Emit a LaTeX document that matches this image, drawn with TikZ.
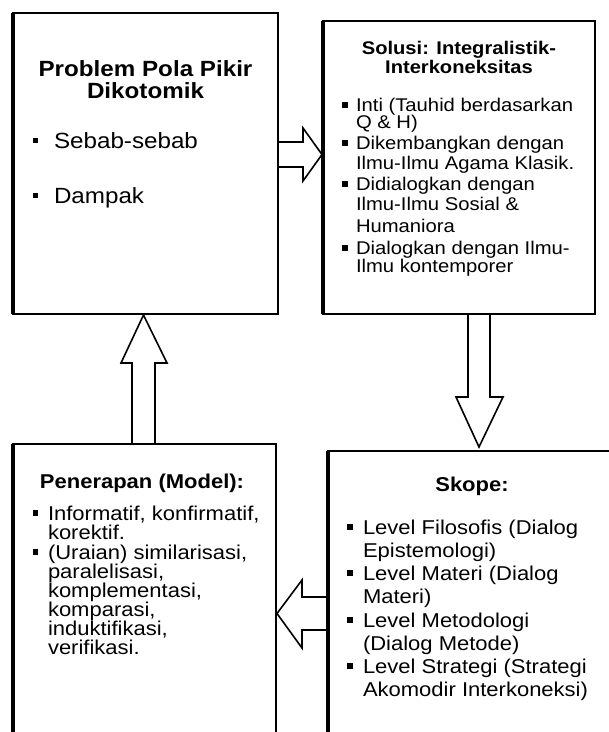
\documentclass[tikz,border=0pt]{standalone}
\usepackage{fontspec}
\setmainfont{Liberation Sans}[FakeStretch=1.1]
\usetikzlibrary{calc}
\newcommand\fsTa{\bfseries\fontsize{22}{22}\selectfont}
\newcommand\fsBa{\fontsize{22}{22}\selectfont}
\newcommand\fsTb{\bfseries\fontsize{18.3}{18}\selectfont}
\newcommand\fsBb{\fontsize{18.4}{18}\selectfont}
\newcommand\fsTc{\bfseries\fontsize{20}{20}\selectfont}
\newcommand\fsBc{\fontsize{20}{20}\selectfont}
\tikzset{
  box/.style={draw, line width=2pt, outer sep=0pt, inner sep=0pt, anchor=north west},
  leftedge/.style={line width=3.4pt},
  blk/.style={draw, line width=1.6pt, line join=miter},
  ln/.style={inner sep=0pt, outer sep=0pt, anchor=base west},
  ttl/.style={inner sep=0pt, outer sep=0pt, anchor=base},
  bul/.style={fill=black, minimum size=5.5pt, inner sep=0pt, outer sep=0pt},
}
\begin{document}
\begin{tikzpicture}[x=1pt, y=-1pt]
\useasboundingbox (0,0) rectangle (609,732);
\fill[white] (0,0) rectangle (609,732);
\begin{scope}
\clip (0,0) rectangle (609,732);
% boxes
\node[box, minimum width=265pt, minimum height=301pt] (prob) at (13,13) {};
\node[box, minimum width=272pt, minimum height=293pt] (sol) at (323,21) {};
\node[box, minimum width=288pt, minimum height=330pt] (skope) at (328,451) {};
\node[box, minimum width=263pt, minimum height=330pt] (pen) at (13,444) {};
\draw[leftedge] (prob.north west) -- (prob.south west);
\draw[leftedge] (sol.north west) -- (sol.south west);
\draw[leftedge] (skope.north west) -- (skope.south west);
\draw[leftedge] (pen.north west) -- (pen.south west);

% block arrows
\draw[blk] ($(prob.north east)+(0,129)$) -- (303,142) -- (303,128)
  -- ($(sol.north west)+(-1,133.5)$) -- (303,181) -- (303,167)
  -- ($(prob.north east)+(0,154)$);
\draw[blk] ($(sol.south west)+(145,0)$) -- (468,397) -- (456,397)
  -- ($(skope.north west)+(151,-4)$) -- (503,397) -- (490,397)
  -- ($(sol.south west)+(167,0)$);
\draw[blk] ($(skope.north west)+(0,146)$) -- (302,597) -- (302,580)
  -- ($(pen.north east)+(1,169.5)$) -- (302,648) -- (302,630)
  -- ($(skope.north west)+(0,179)$);
\draw[blk] ($(pen.north west)+(119,0)$) -- (132,363) -- (121,363)
  -- ($(prob.south west)+(130.5,1)$) -- (167,363) -- (155,363)
  -- ($(pen.north west)+(142,0)$);

% box 1 text
\node[ttl, font=\fsTa] (pt1) at (145.5,76) {Problem Pola Pikir};
\node[ttl, font=\fsTa] (pt2) at (145.5,98) {Dikotomik};
\node[bul] (pb1) at (35.5,140.5) {};
\node[ln, font=\fsBa] (pl1) at (54,148) {Sebab-sebab};
\node[bul] (pb2) at (35.5,195.5) {};
\node[ln, font=\fsBa] (pl2) at (54,203) {Dampak};

% box 2 text
\node[ttl, font=\fsTb] (st1) at (459,54) {Solusi: Integralistik-};
\node[ttl, font=\fsTb] (st2) at (459,73) {Interkoneksitas};
\node[bul] (sb1) at (345,105) {};
\node[ln, font=\fsBb] (sl1) at (356,111) {Inti (Tauhid berdasarkan};
\node[ln, font=\fsBb] (sl2) at (356,128) {Q \& H)};
\node[bul] (sb2) at (345,143) {};
\node[ln, font=\fsBb] (sl3) at (356,149) {Dikembangkan dengan};
\node[ln, font=\fsBb] (sl4) at (356,169) {Ilmu-Ilmu Agama Klasik.};
\node[bul] (sb3) at (345,184) {};
\node[ln, font=\fsBb] (sl5) at (356,190) {Didialogkan dengan};
\node[ln, font=\fsBb] (sl6) at (356,210) {Ilmu-Ilmu Sosial \&};
\node[ln, font=\fsBb] (sl7) at (356,232) {Humaniora};
\node[bul] (sb4) at (345,248) {};
\node[ln, font=\fsBb] (sl8) at (356,254) {Dialogkan dengan Ilmu-};
\node[ln, font=\fsBb] (sl9) at (356,272) {Ilmu kontemporer};

% skope text
\node[ttl, font=\fsTc] (kt1) at (472,491) {Skope:};
\node[bul] (kb1) at (350,527) {};
\node[ln, font=\fsBc] (kl1) at (363,534) {Level Filosofis (Dialog};
\node[ln, font=\fsBc] (kl2) at (363,557) {Epistemologi)};
\node[bul] (kb2) at (350,573) {};
\node[ln, font=\fsBc] (kl3) at (363,580) {Level Materi (Dialog};
\node[ln, font=\fsBc] (kl4) at (363,603) {Materi)};
\node[bul] (kb3) at (350,620) {};
\node[ln, font=\fsBc] (kl5) at (363,627) {Level Metodologi};
\node[ln, font=\fsBc] (kl6) at (363,650) {(Dialog Metode)};
\node[bul] (kb4) at (350,666) {};
\node[ln, font=\fsBc] (kl7) at (363,673) {Level Strategi (Strategi};
\node[ln, font=\fsBc] (kl8) at (363,696) {Akomodir Interkoneksi)};

% penerapan text
\node[ttl, font=\fsTc] (nt1) at (142,488) {Penerapan (Model):};
\node[bul] (nb1) at (35.5,513) {};
\node[ln, font=\fsBc] (nl1) at (48,520) {Informatif, konfirmatif,};
\node[ln, font=\fsBc] (nl2) at (48,539) {korektif.};
\node[bul] (nb2) at (35.5,552) {};
\node[ln, font=\fsBc] (nl3) at (48,559) {(Uraian) similarisasi,};
\node[ln, font=\fsBc] (nl4) at (48,578) {paralelisasi,};
\node[ln, font=\fsBc] (nl5) at (48,597) {komplementasi,};
\node[ln, font=\fsBc] (nl6) at (48,616) {komparasi,};
\node[ln, font=\fsBc] (nl7) at (48,635) {induktifikasi,};
\node[ln, font=\fsBc] (nl8) at (48,654) {verifikasi.};
\end{scope}
\end{tikzpicture}
\end{document}
